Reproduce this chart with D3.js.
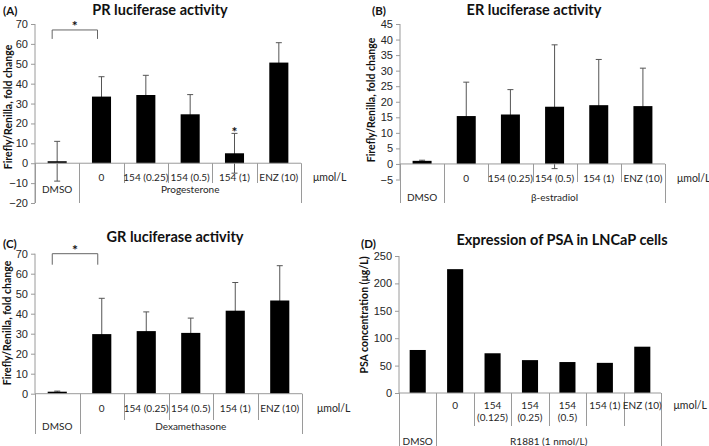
<!DOCTYPE html>
<html><head><meta charset="utf-8">
<script src="https://cdn.jsdelivr.net/npm/d3@7"></script>
<style>
html,body{margin:0;padding:0;background:#fff;}
svg{display:block;font-family:Lato,"Open Sans",sans-serif;}
</style></head>
<body>
<svg id="c" width="709" height="446"></svg>
<script>
// ---------- DATA ----------
const luciferaseLevel1 = ["", "0", "154 (0.25)", "154 (0.5)", "154 (1)", "ENZ (10)"];
const prGroupLabels = ["DMSO", "Progesterone"];
const erGroupLabels = ["DMSO", "β-estradiol"];
const grGroupLabels = ["DMSO", "Dexamethasone"];
const luciferaseGroupSizes = [1, 5];

const prValues = [1, 33.5, 34.3, 24.6, 5, 50.6];
const prErrors = [10, 10, 9.9, 9.9, 10, 10];
const erValues = [1, 15.4, 15.9, 18.4, 18.9, 18.6];
const erErrors = [0.2, 10.9, 8.0, 19.9, 14.7, 12.2];
const grValues = [1, 29.8, 31.3, 30.4, 41.5, 46.6];
const grErrors = [0.3, 17.9, 9.6, 7.4, 14.1, 17.4];

const psaLevel1 = [[""], ["0"], ["154", "(0.125)"], ["154", "(0.25)"], ["154", "(0.5)"], ["154 (1)"], ["ENZ (10)"]];
const psaGroupLabels = ["DMSO", "R1881 (1 nmol/L)"];
const psaGroupSizes = [1, 6];
const psaValues = [78.5, 226, 72.5, 60, 56.5, 55, 84.5];

const prTicks = [-20, -10, 0, 10, 20, 30, 40, 50, 60, 70];
const erTicks = [-5, 0, 5, 10, 15, 20, 25, 30, 35, 40, 45];
const grTicks = [0, 10, 20, 30, 40, 50, 60, 70];
const psaTicks = [0, 50, 100, 150, 200, 250];

// ---------- DRAWING ----------
const svg = d3.select("#c");
const AXIS = "#9a9a9a", TXT = "#262626";

function panel(cfg) {
  const g = svg.append("g");
  const n = cfg.values.length;
  const y = d3.scaleLinear().domain(cfg.domain).range([cfg.yBot, cfg.yTop]);
  const x = d3.scaleBand().domain(d3.range(n)).range([cfg.x0, cfg.x1])
    .paddingInner(0.57).paddingOuter(0.285);
  const step = x.step();
  const y0 = y(0);

  g.append("text").attr("x", cfg.titleX).attr("y", cfg.titleY).attr("text-anchor", "middle")
    .attr("font-size", 14.5).attr("font-weight", "bold").attr("fill", "#111").text(cfg.title);
  g.append("text").attr("x", cfg.letterX).attr("y", cfg.letterY)
    .attr("font-size", 11.5).attr("font-weight", "bold").attr("fill", "#111").text(cfg.letter);
  g.append("text").attr("transform", `translate(${cfg.ylabX},${cfg.ylabY}) rotate(-90)`)
    .attr("text-anchor", "middle").attr("dominant-baseline", "central")
    .attr("font-size", 10.5).attr("font-weight", "bold").attr("fill", "#111").text(cfg.ylab);

  const ax = g.append("g").attr("transform", `translate(${cfg.x0},0)`)
    .call(d3.axisLeft(y).tickValues(cfg.ticks).tickSize(4).tickPadding(3));
  ax.select(".domain").attr("stroke", AXIS).attr("d", `M0,${cfg.yTop}V${cfg.yBot}`);
  ax.selectAll(".tick line").attr("stroke", AXIS);
  ax.selectAll(".tick text").attr("font-size", 11).attr("fill", TXT).attr("font-family", null);

  if (cfg.errors) {
    const eb = g.append("g").attr("stroke", "#555").attr("stroke-width", 1).attr("fill", "none");
    cfg.values.forEach((v, i) => {
      const cx = x(i) + x.bandwidth() / 2;
      const hi = y(v + cfg.errors[i]), lo = y(v - cfg.errors[i]);
      eb.append("line").attr("x1", cx).attr("x2", cx).attr("y1", hi).attr("y2", lo);
      eb.append("line").attr("x1", cx - 3).attr("x2", cx + 3).attr("y1", hi).attr("y2", hi);
      eb.append("line").attr("x1", cx - 3).attr("x2", cx + 3).attr("y1", lo).attr("y2", lo);
    });
  }
  g.append("g").selectAll("rect").data(cfg.values).join("rect")
    .attr("x", (d, i) => x(i)).attr("width", x.bandwidth())
    .attr("y", d => y(Math.max(0, d))).attr("height", d => Math.abs(y(d) - y0))
    .attr("fill", "#000");

  g.append("line").attr("x1", cfg.x0).attr("x2", cfg.x1).attr("y1", y0).attr("y2", y0)
    .attr("stroke", AXIS);

  const bounds = [0];
  cfg.groupSizes.forEach(s => bounds.push(bounds[bounds.length - 1] + s));
  const sep = g.append("g").attr("stroke", AXIS).attr("stroke-width", 1);
  for (let i = 1; i < n; i++) {
    if (bounds.includes(i)) continue;
    const xx = Math.round(cfg.x0 + i * step) + 0.5;
    sep.append("line").attr("x1", xx).attr("x2", xx).attr("y1", y0).attr("y2", cfg.l1Sep);
  }
  bounds.forEach(b => {
    const xx = Math.round(cfg.x0 + b * step) + 0.5;
    sep.append("line").attr("x1", xx).attr("x2", xx).attr("y1", y0).attr("y2", cfg.l2Sep);
  });
  cfg.level1.forEach((lab, i) => {
    const lines = Array.isArray(lab) ? lab : [lab];
    lines.forEach((t, k) => {
      g.append("text").attr("x", x(i) + x.bandwidth() / 2).attr("y", cfg.l1Y + k * 12)
        .attr("text-anchor", "middle").attr("dominant-baseline", "central")
        .attr("font-size", 10).attr("fill", TXT).text(t);
    });
  });
  cfg.groupLabels.forEach((lab, j) => {
    const cx = cfg.x0 + (bounds[j] + bounds[j + 1]) / 2 * step;
    g.append("text").attr("x", cx).attr("y", cfg.l2Y).attr("text-anchor", "middle")
      .attr("dominant-baseline", "central").attr("font-size", 10).attr("fill", TXT).text(lab);
  });
  g.append("text").attr("x", cfg.unitX).attr("y", cfg.l1Y).attr("dominant-baseline", "central")
    .attr("text-anchor", cfg.unitAnchor || "start")
    .attr("font-size", 10.5).attr("fill", TXT).text("μmol/L");

  (cfg.brackets || []).forEach(b => {
    const xa = x(b[0]) + x.bandwidth() / 2 - 5, xb = x(b[1]) + x.bandwidth() / 2 - 4;
    const top = y(b[2]), leg = y(b[3]);
    g.append("path").attr("d", `M${xa},${leg}V${top}H${xb}V${leg}`).attr("fill", "none")
      .attr("stroke", "#666");
    g.append("text").attr("x", (xa + xb) / 2).attr("y", top + 1).attr("text-anchor", "middle")
      .attr("font-size", 14).attr("font-weight", "bold").attr("fill", "#111").text("*");
  });
  (cfg.stars || []).forEach(s => {
    g.append("text").attr("x", x(s[0]) + x.bandwidth() / 2).attr("y", y(s[1]) + 7)
      .attr("text-anchor", "middle").attr("font-size", 14).attr("font-weight", "bold")
      .attr("fill", "#111").text("*");
  });
}

panel({
  title: "PR luciferase activity", titleX: 160, titleY: 15, letter: "(A)", letterX: 3, letterY: 15,
  ylab: "Firefly/Renilla, fold change", ylabX: 8, ylabY: 107,
  x0: 35, x1: 301, yTop: 24, yBot: 203, domain: [-20, 70], ticks: prTicks,
  values: prValues, errors: prErrors, level1: luciferaseLevel1,
  groupLabels: prGroupLabels, groupSizes: luciferaseGroupSizes,
  l1Y: 177, l1Sep: 183, l2Y: 189, l2Sep: 203, unitX: 313,
  brackets: [[0, 1, 67, 62.5]], stars: [[4, 16.5]]
});
panel({
  title: "ER luciferase activity", titleX: 534, titleY: 15, letter: "(B)", letterX: 372, letterY: 15,
  ylab: "Firefly/Renilla, fold change", ylabX: 371, ylabY: 100,
  x0: 400, x1: 665, yTop: 24, yBot: 179.5, domain: [-5, 45], ticks: erTicks,
  values: erValues, errors: erErrors, level1: luciferaseLevel1,
  groupLabels: erGroupLabels, groupSizes: luciferaseGroupSizes,
  l1Y: 178, l1Sep: 182, l2Y: 197, l2Sep: 203, unitX: 677
});
panel({
  title: "GR luciferase activity", titleX: 175, titleY: 242, letter: "(C)", letterX: 3, letterY: 248,
  ylab: "Firefly/Renilla, fold change", ylabX: 7, ylabY: 323,
  x0: 35, x1: 302, yTop: 253.7, yBot: 393.7, domain: [0, 70], ticks: grTicks,
  values: grValues, errors: grErrors, level1: luciferaseLevel1,
  groupLabels: grGroupLabels, groupSizes: luciferaseGroupSizes,
  l1Y: 408, l1Sep: 420, l2Y: 426, l2Sep: 434, unitX: 317,
  brackets: [[0, 1, 70, 64.5]]
});
panel({
  title: "Expression of PSA in LNCaP cells", titleX: 562, titleY: 245, letter: "(D)", letterX: 361, letterY: 248,
  ylab: "PSA concentration (μg/L)", ylabX: 364, ylabY: 315,
  x0: 399, x1: 661, yTop: 256, yBot: 393, domain: [0, 250], ticks: psaTicks,
  values: psaValues, errors: null, level1: psaLevel1,
  groupLabels: psaGroupLabels, groupSizes: psaGroupSizes,
  l1Y: 405, l1Sep: 426, l2Y: 441, l2Sep: 446, unitX: 707, unitAnchor: "end"
});
</script>
</body></html>
